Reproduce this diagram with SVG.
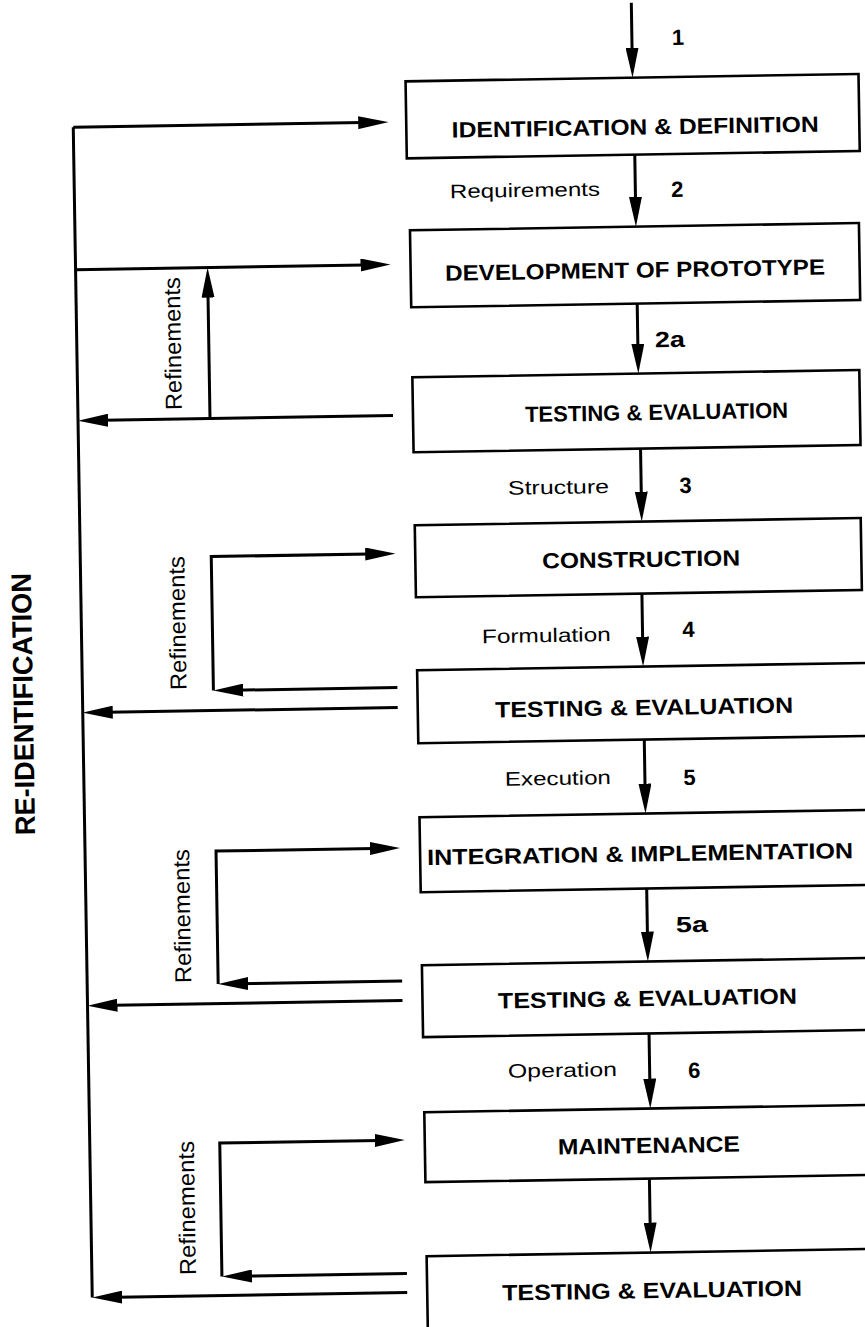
<svg xmlns="http://www.w3.org/2000/svg" width="865" height="1327" viewBox="0 0 865 1327">
  <defs>
    <style>
      .box { fill: #fff; stroke: #000; stroke-width: 2.6; }
      .ln { fill: none; stroke: #000; stroke-width: 3; }
      .arr { marker-end: url(#ah); }
      text { font-family: "Liberation Sans", Arial, Helvetica, sans-serif; fill: #000; }
      .title { font-weight: bold; font-size: 22px; }
      .lab { font-size: 19.5px; }
      .num { font-weight: bold; font-size: 22px; }
      .ref { font-size: 23px; }
      .reid { font-weight: bold; font-size: 28px; }
    </style>
    <marker id="ah" markerUnits="userSpaceOnUse" markerWidth="30" markerHeight="13" refX="20" refY="6.5" orient="auto">
      <path d="M0,0 L30,6.5 L0,13 Z" fill="#000"/>
    </marker>
  </defs>
  <rect width="865" height="1327" fill="#fff"/>

  <g transform="rotate(-0.93 432 663)">
    <!-- process boxes -->
    <g id="identification">
      <rect class="box" x="415" y="81" width="453" height="77"/>
      <text class="title" x="460.4" y="138" textLength="367" lengthAdjust="spacingAndGlyphs">IDENTIFICATION &amp; DEFINITION</text>
    </g>
    <g id="prototype">
      <rect class="box" x="417" y="230" width="449" height="77"/>
      <text class="title" x="451.4" y="281" textLength="380" lengthAdjust="spacingAndGlyphs">DEVELOPMENT OF PROTOTYPE</text>
    </g>
    <g id="testing1">
      <rect class="box" x="417" y="377" width="447" height="75"/>
      <text class="title" x="529.1" y="423.6" textLength="263" lengthAdjust="spacingAndGlyphs">TESTING &amp; EVALUATION</text>
    </g>
    <g id="construction">
      <rect class="box" x="417" y="525" width="446" height="72"/>
      <text class="title" x="543.7" y="570.4" textLength="198" lengthAdjust="spacingAndGlyphs">CONSTRUCTION</text>
    </g>
    <g id="testing2">
      <rect class="box" x="417" y="670" width="463" height="73"/>
      <text class="title" x="494.3" y="718.5" textLength="298" lengthAdjust="spacingAndGlyphs">TESTING &amp; EVALUATION</text>
    </g>
    <g id="integration">
      <rect class="box" x="417" y="817" width="463" height="75"/>
      <text class="title" x="423.9" y="864.9" textLength="426" lengthAdjust="spacingAndGlyphs">INTEGRATION &amp; IMPLEMENTATION</text>
    </g>
    <g id="testing3">
      <rect class="box" x="417" y="965" width="463" height="72"/>
      <text class="title" x="492.5" y="1009.5" textLength="299" lengthAdjust="spacingAndGlyphs">TESTING &amp; EVALUATION</text>
    </g>
    <g id="maintenance">
      <rect class="box" x="417" y="1112" width="463" height="70"/>
      <text class="title" x="550.1" y="1156.5" textLength="182" lengthAdjust="spacingAndGlyphs">MAINTENANCE</text>
    </g>
    <g id="testing4">
      <rect class="box" x="417" y="1256" width="463" height="100"/>
      <text class="title" x="491.8" y="1301.6" textLength="300" lengthAdjust="spacingAndGlyphs">TESTING &amp; EVALUATION</text>
    </g>

    <!-- connectors -->
    <g id="connectors">
      <!-- main downward flow -->
      <path class="ln arr" d="M642,6 V71"/>
      <path class="ln arr" d="M643,158 V220"/>
      <path class="ln arr" d="M643,307 V367"/>
      <path class="ln arr" d="M644,452 V515"/>
      <path class="ln arr" d="M643,597 V660"/>
      <path class="ln arr" d="M643,743 V807"/>
      <path class="ln arr" d="M643,892 V955"/>
      <path class="ln arr" d="M643,1037 V1102"/>
      <path class="ln arr" d="M641,1182 V1246"/>

      <!-- re-identification spine -->
      <path class="ln" d="M82,121.5 V1292"/>
      <path class="ln arr" d="M82,121.5 H387"/>
      <path class="ln arr" d="M82,264 H387"/>

      <!-- prototype refinement loop -->
      <path class="ln arr" d="M214,415 V274"/>
      <path class="ln arr" d="M397,415 H92"/>

      <!-- construction refinement loop -->
      <path class="ln arr" d="M213,687 V553 H387"/>
      <path class="ln arr" d="M397,687 H223"/>
      <path class="ln arr" d="M397,707 H92"/>

      <!-- integration refinement loop -->
      <path class="ln arr" d="M213,980.5 V847.5 H387"/>
      <path class="ln arr" d="M397,980.5 H223"/>
      <path class="ln arr" d="M397,1000 H92"/>

      <!-- maintenance refinement loop -->
      <path class="ln arr" d="M212,1273 V1139.5 H387"/>
      <path class="ln arr" d="M397,1273 H222"/>
      <path class="ln arr" d="M397,1292 H92"/>
    </g>

    <!-- connector labels -->
    <g id="labels">
      <text class="num" x="688" y="49" text-anchor="middle">1</text>
      <text class="lab" x="457.6" y="198.5" textLength="150" lengthAdjust="spacingAndGlyphs">Requirements</text>
      <text class="num" x="685" y="201" text-anchor="middle">2</text>
      <text class="num" x="660" y="351" textLength="30" lengthAdjust="spacingAndGlyphs">2a</text>
      <text class="lab" x="510.8" y="496" textLength="101" lengthAdjust="spacingAndGlyphs">Structure</text>
      <text class="num" x="688.3" y="497" text-anchor="middle">3</text>
      <text class="lab" x="482.3" y="644" textLength="129" lengthAdjust="spacingAndGlyphs">Formulation</text>
      <text class="num" x="688.9" y="641" text-anchor="middle">4</text>
      <text class="lab" x="503" y="787" textLength="106" lengthAdjust="spacingAndGlyphs">Execution</text>
      <text class="num" x="687.5" y="789" text-anchor="middle">5</text>
      <text class="num" x="671.6" y="936.2" textLength="32" lengthAdjust="spacingAndGlyphs">5a</text>
      <text class="lab" x="501.3" y="1079" textLength="109" lengthAdjust="spacingAndGlyphs">Operation</text>
      <text class="num" x="687.7" y="1082" text-anchor="middle">6</text>

      <text class="ref" transform="translate(186 406) rotate(-90)" textLength="133" lengthAdjust="spacingAndGlyphs">Refinements</text>
      <text class="ref" transform="translate(186 686) rotate(-90)" textLength="134" lengthAdjust="spacingAndGlyphs">Refinements</text>
      <text class="ref" transform="translate(186 979) rotate(-90)" textLength="134" lengthAdjust="spacingAndGlyphs">Refinements</text>
      <text class="ref" transform="translate(186 1271) rotate(-90)" textLength="134" lengthAdjust="spacingAndGlyphs">Refinements</text>

      <text class="reid" transform="translate(32.3 828.5) rotate(-90)" textLength="262" lengthAdjust="spacingAndGlyphs">RE-IDENTIFICATION</text>
    </g>
  </g>
</svg>
